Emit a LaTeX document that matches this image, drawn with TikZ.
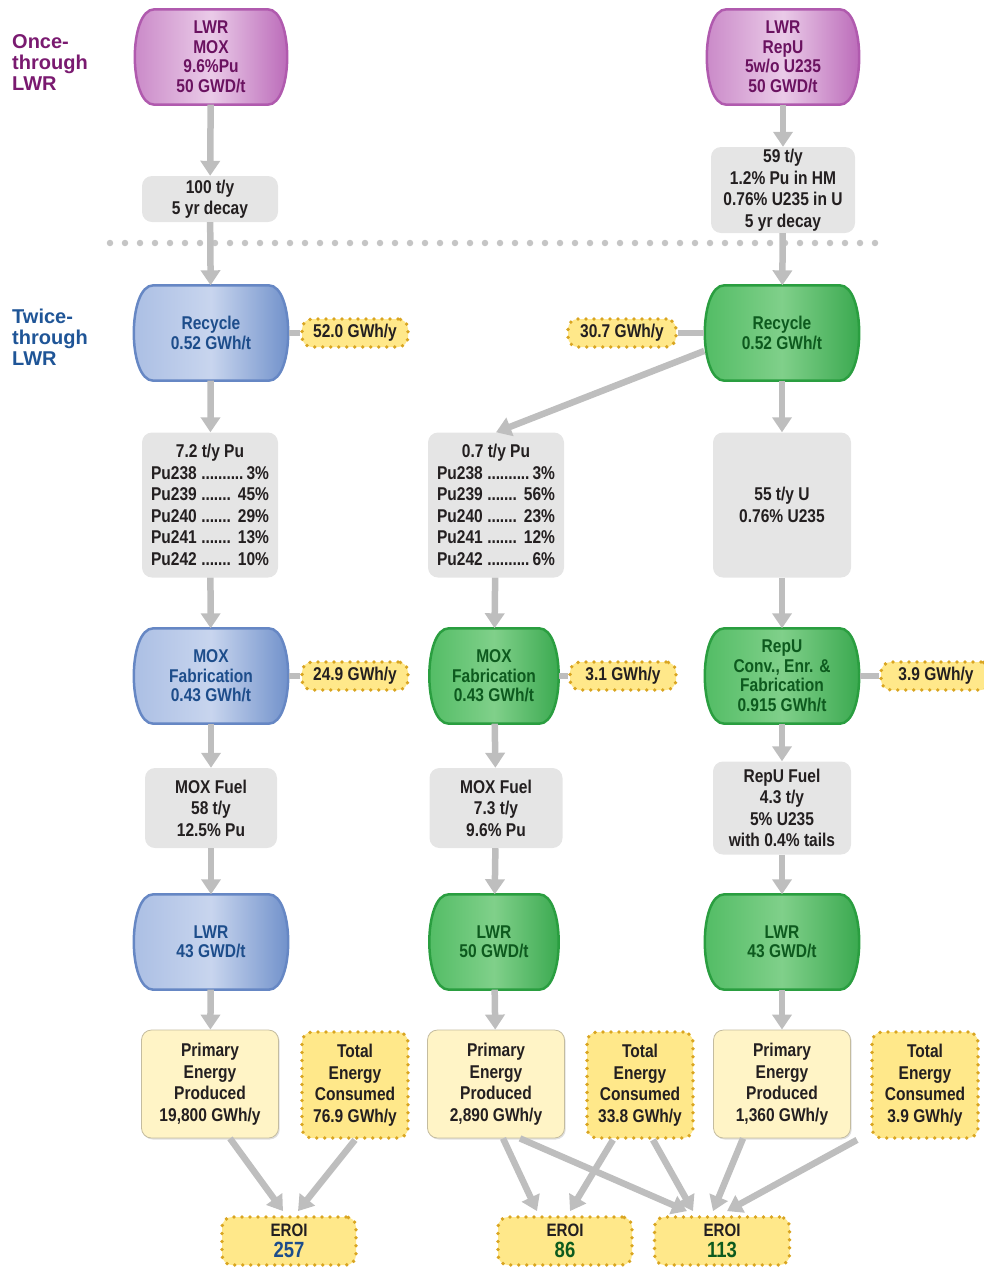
\documentclass[tikz,border=0pt]{standalone}
\usepackage{fontspec}
\setmainfont{Liberation Sans}
\newfontfamily\cnd{Liberation Sans}[FakeStretch=0.84]
\usetikzlibrary{arrows.meta,calc,shadows}
\pgfdeclarelayer{background}
\pgfsetlayers{background,main}
\definecolor{arr}{HTML}{BEBEBE}
\definecolor{txt}{HTML}{231F20}
\definecolor{grayfill}{HTML}{E5E5E5}
\definecolor{yelfill}{HTML}{FFE88A}
\definecolor{yeldot}{HTML}{D9A521}
\definecolor{primfill}{HTML}{FFF4C6}
\definecolor{primdraw}{HTML}{C4BC9F}
\definecolor{purtxt}{HTML}{6A1260}
\definecolor{purlab}{HTML}{7A1A70}
\definecolor{purA}{HTML}{C885C6}
\definecolor{purB}{HTML}{EACBE8}
\definecolor{purC}{HTML}{B864B6}
\definecolor{purD}{HTML}{B05AAE}
\definecolor{blutxt}{HTML}{1D4D8B}
\definecolor{blulab}{HTML}{1F5597}
\definecolor{bluA}{HTML}{A9BDE3}
\definecolor{bluB}{HTML}{C8D5EE}
\definecolor{bluC}{HTML}{6A8CC8}
\definecolor{bluD}{HTML}{6687C4}
\definecolor{grntxt}{HTML}{0D5A1E}
\definecolor{grnA}{HTML}{4FBB62}
\definecolor{grnB}{HTML}{80D08A}
\definecolor{grnC}{HTML}{35A64B}
\definecolor{grnD}{HTML}{2A9E40}
\newcommand\capsule[5]{%
  \path[draw=#5, line width=2.5pt, left color=#2, right color=#4, middle color=#3]
    let \p1=(#1.north west), \p2=(#1.south east) in
    (\x1+20,\y1) -- (\x2-20,\y1) .. controls (\x2+6,\y1) and (\x2+6,\y2) .. (\x2-20,\y2)
    -- (\x1+20,\y2) .. controls (\x1-6,\y2) and (\x1-6,\y1) .. (\x1+20,\y1) -- cycle;}
\newcommand\pul[2]{\hbox to 118pt{#1\,\leaders\hbox to 4.2pt{\hss.\hss}\hfill\,#2}}
\tikzset{
  capnode/.style={minimum width=#1, minimum height=95pt, inner sep=0pt, align=center,
    font=\cnd\bfseries\fontsize{18.5}{19.5}\selectfont},
  capnode/.default=155pt,
  graybox/.style args={#1x#2}{fill=grayfill, rounded corners=10pt, minimum width=#1,
    minimum height=#2, inner sep=0pt, align=center, text=txt,
    font=\cnd\bfseries\fontsize{18.5}{21.5}\selectfont},
  dotbox/.style args={#1x#2}{fill=yelfill, draw=yeldot, line width=3.8pt,
    dash pattern=on 0pt off 8pt, line cap=round, rounded corners=10pt,
    minimum width=#1, minimum height=#2, inner sep=0pt, align=center, text=txt,
    font=\cnd\bfseries\fontsize{18.5}{21.5}\selectfont},
  primbox/.style={fill=primfill, draw=primdraw, line width=0.8pt, rounded corners=10pt,
    minimum width=137pt, minimum height=108pt, inner sep=0pt, align=center, text=txt,
    drop shadow={opacity=0.25, shadow xshift=1.2pt, shadow yshift=-1.5pt},
    font=\cnd\bfseries\fontsize{18.5}{21.5}\selectfont},
  sidelab/.style={anchor=north west, align=left, inner sep=0pt,
    font=\bfseries\fontsize{20}{21}\selectfont},
  arw/.style={draw=arr, line width=6.5pt, -{Triangle[width=19pt,length=15pt]}},
  lnk/.style={draw=arr, line width=6.5pt},
}
\begin{document}
\begin{tikzpicture}[x=1pt,y=-1pt]
\useasboundingbox (0,0) rectangle (984,1267);
% side labels
\node[sidelab, text=purlab] (lab1) at (12,34) {Once-\\through\\LWR};
\node[sidelab, text=blulab] (lab2) at (12,309) {Twice-\\through\\LWR};
% capsule nodes
\node[capnode=153pt, text=purtxt] (purp1) at (211,57) {LWR\\MOX\\9.6\%Pu\\50 GWD/t};
\node[capnode=153pt, text=purtxt] (purp2) at (783,57) {LWR\\RepU\\5w/o U235\\50 GWD/t};
\node[capnode, text=blutxt] (rec1) at (211,333) {Recycle\\0.52 GWh/t};
\node[capnode, text=grntxt] (rec2) at (782,333) {Recycle\\0.52 GWh/t};
\node[capnode, text=blutxt] (fab1) at (211,676) {MOX\\Fabrication\\0.43 GWh/t};
\node[capnode=130pt, text=grntxt] (fab2) at (494,676) {MOX\\Fabrication\\0.43 GWh/t};
\node[capnode, text=grntxt] (fab3) at (782,676) {RepU\\Conv., Enr. \&\\Fabrication\\0.915 GWh/t};
\node[capnode, text=blutxt] (lwr1) at (211,942) {LWR\\43 GWD/t};
\node[capnode=130pt, text=grntxt] (lwr2) at (494,942) {LWR\\50 GWD/t};
\node[capnode, text=grntxt] (lwr3) at (782,942) {LWR\\43 GWD/t};
\begin{pgfonlayer}{background}
\capsule{purp1}{purA}{purB}{purC}{purD}
\capsule{purp2}{purA}{purB}{purC}{purD}
\capsule{rec1}{bluA}{bluB}{bluC}{bluD}
\capsule{fab1}{bluA}{bluB}{bluC}{bluD}
\capsule{lwr1}{bluA}{bluB}{bluC}{bluD}
\capsule{rec2}{grnA}{grnB}{grnC}{grnD}
\capsule{fab2}{grnA}{grnB}{grnC}{grnD}
\capsule{fab3}{grnA}{grnB}{grnC}{grnD}
\capsule{lwr2}{grnA}{grnB}{grnC}{grnD}
\capsule{lwr3}{grnA}{grnB}{grnC}{grnD}
\end{pgfonlayer}
% gray boxes
\node[graybox=136pt x 46pt] (g1) at (210,199) {100 t/y\\5 yr decay};
\node[graybox=144pt x 86pt] (g2) at (783,190) {59 t/y\\1.2\% Pu in HM\\0.76\% U235 in U\\5 yr decay};
\node[graybox=136pt x 145pt] (pu1) at (210,505) {7.2 t/y Pu\\\pul{Pu238}{3\%}\\\pul{Pu239}{45\%}\\\pul{Pu240}{29\%}\\\pul{Pu241}{13\%}\\\pul{Pu242}{10\%}};
\node[graybox=136pt x 145pt] (pu2) at (496,505) {0.7 t/y Pu\\\pul{Pu238}{3\%}\\\pul{Pu239}{56\%}\\\pul{Pu240}{23\%}\\\pul{Pu241}{12\%}\\\pul{Pu242}{6\%}};
\node[graybox=138pt x 145pt] (u3) at (782,505) {55 t/y U\\0.76\% U235};
\node[graybox=132pt x 80pt] (fuel1) at (211,808) {MOX Fuel\\58 t/y\\12.5\% Pu};
\node[graybox=133pt x 80pt] (fuel2) at (496,808) {MOX Fuel\\7.3 t/y\\9.6\% Pu};
\node[graybox=138pt x 93pt] (fuel3) at (782,808) {RepU Fuel\\4.3 t/y\\5\% U235\\with 0.4\% tails};
% energy boxes
\node[dotbox=106pt x 28pt] (e1) at (355,333) {52.0 GWh/y};
\node[dotbox=108pt x 28pt] (e2) at (622,333) {30.7 GWh/y};
\node[dotbox=106pt x 28pt] (e3) at (355,676) {24.9 GWh/y};
\node[dotbox=106pt x 28pt] (e4) at (623,676) {3.1 GWh/y};
\node[dotbox=110pt x 28pt] (e5) at (936,676) {3.9 GWh/y};
\node[primbox] (p1) at (210,1084) {Primary\\Energy\\Produced\\19,800 GWh/y};
\node[primbox] (p2) at (496,1084) {Primary\\Energy\\Produced\\2,890 GWh/y};
\node[primbox] (p3) at (782,1084) {Primary\\Energy\\Produced\\1,360 GWh/y};
\node[dotbox=106pt x 106pt] (t1) at (355,1085) {Total\\Energy\\Consumed\\76.9 GWh/y};
\node[dotbox=106pt x 106pt] (t2) at (640,1085) {Total\\Energy\\Consumed\\33.8 GWh/y};
\node[dotbox=106pt x 106pt] (t3) at (925,1085) {Total\\Energy\\Consumed\\3.9 GWh/y};
\node[dotbox=134pt x 48pt] (r1) at (289,1241) {{\fontsize{18}{17}\selectfont EROI}\\[-1pt]{\fontsize{22}{20}\selectfont\color{blutxt}257}};
\node[dotbox=134pt x 48pt] (r2) at (565,1241) {{\fontsize{18}{17}\selectfont EROI}\\[-1pt]{\fontsize{22}{20}\selectfont\color{grntxt}86}};
\node[dotbox=135pt x 48pt] (r3) at (722,1241) {{\fontsize{18}{17}\selectfont EROI}\\[-1pt]{\fontsize{22}{20}\selectfont\color{grntxt}113}};
% separator
\coordinate (sepL) at (110,243);
\coordinate (sepR) at (880,243);
\draw[draw=arr!90!white, line width=6.5pt, line cap=round, dash pattern=on 0pt off 15pt] (sepL) -- (sepR);
% connectors
\draw[arw] (purp1) -- (g1);
\draw[arw] (g1) -- (rec1);
\draw[arw] (purp2) -- (g2);
\draw[arw] (g2) -- (rec2);
\draw[arw] (rec1) -- (pu1);
\draw[arw] (pu1) -- (fab1);
\draw[arw] (fab1) -- (fuel1);
\draw[arw] (fuel1) -- (lwr1);
\draw[arw] (lwr1) -- (p1);
\draw[arw] (rec2) -- (u3);
\draw[arw] (u3) -- (fab3);
\draw[arw] (fab3) -- (fuel3);
\draw[arw] (fuel3) -- (lwr3);
\draw[arw] (lwr3) -- (p3);
\draw[arw] (rec2.193) -- (pu2.north);
\draw[arw] (pu2) -- (fab2);
\draw[arw] (fab2) -- (fuel2);
\draw[arw] (fuel2) -- (lwr2);
\draw[arw] (lwr2) -- (p2);
\draw[lnk] (rec1.east) -- (e1.west);
\draw[lnk] (rec2.west) -- (e2.east);
\draw[lnk] (fab1.east) -- (e3.west);
\draw[lnk] (fab2.east) -- (e4.west);
\draw[lnk] (fab3.east) -- (e5.west);
% EROI connectors
\draw[arw] ([xshift=20pt]p1.south) -- ([xshift=-6pt,yshift=4pt]r1.north);
\draw[arw] (t1.south) -- ([xshift=9pt,yshift=4pt]r1.north);
\draw[arw] ([xshift=7pt]p2.south) -- ([xshift=-28pt,yshift=4pt]r2.north);
\draw[arw] ([xshift=24pt]p2.south) -- ([xshift=-35pt,yshift=4pt]r3.north);
\draw[arw] ([xshift=-27pt]t2.south) -- ([xshift=5pt,yshift=4pt]r2.north);
\draw[arw] ([xshift=13pt]t2.south) -- ([xshift=-29pt,yshift=4pt]r3.north);
\draw[arw] ([xshift=-39pt]p3.south) -- ([xshift=-9pt,yshift=4pt]r3.north);
\draw[arw] ([xshift=-68pt]t3.south) -- ([xshift=5pt,yshift=4pt]r3.north);
\end{tikzpicture}
\end{document}
